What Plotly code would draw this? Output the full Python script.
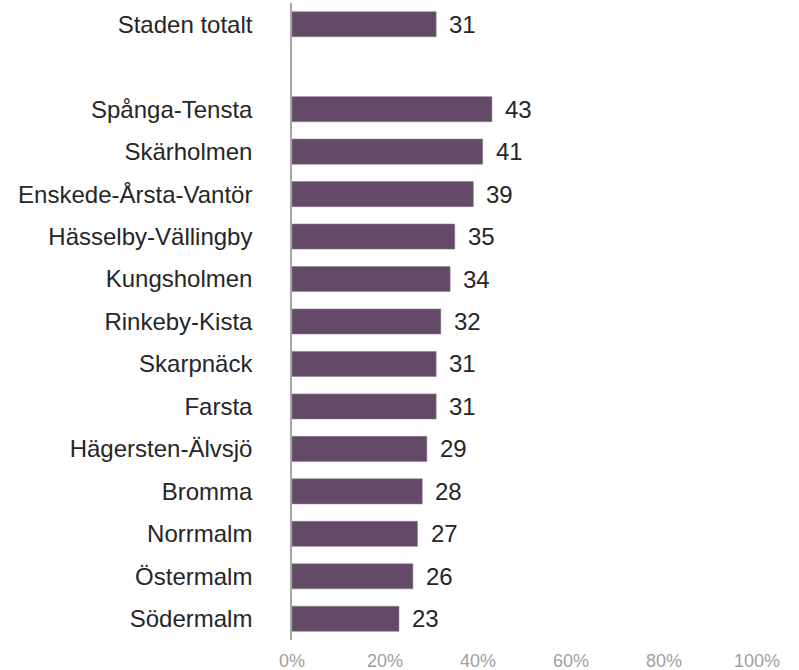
import plotly.graph_objects as go

categories = ["Staden totalt", " ", "Spånga-Tensta", "Skärholmen", "Enskede-Årsta-Vantör",
              "Hässelby-Vällingby", "Kungsholmen", "Rinkeby-Kista", "Skarpnäck", "Farsta",
              "Hägersten-Älvsjö", "Bromma", "Norrmalm", "Östermalm", "Södermalm"]
values = [31, None, 43, 41, 39, 35, 34, 32, 31, 31, 29, 28, 27, 26, 23]
tick_vals = [0, 20, 40, 60, 80, 100]
tick_text = ["0%", "20%", "40%", "60%", "80%", "100%"]

FONT = "Liberation Sans, Arial, sans-serif"

fig = go.Figure()
fig.add_trace(go.Bar(
    y=categories, x=values, orientation="h",
    marker=dict(color="#634a66", line=dict(color="#8c7a8e", width=0.6)),
    hoverinfo="skip",
))

for c, v in zip(categories, values):
    if v is None:
        continue
    fig.add_annotation(x=v, y=c, text=str(v), showarrow=False, xanchor="left",
                       xshift=11, font=dict(size=24, color="#262626", family=FONT))

fig.update_layout(
    width=799, height=670,
    margin=dict(l=292, r=42, t=3, b=30, autoexpand=False),
    plot_bgcolor="white", paper_bgcolor="white",
    bargap=0.41,
    showlegend=False,
    font=dict(family=FONT, size=24, color="#262626"),
    xaxis=dict(range=[0, 100], tickvals=tick_vals, ticktext=tick_text, showgrid=False,
               zeroline=False, showline=False, ticks="outside", ticklen=4, tickcolor="rgba(0,0,0,0)",
               tickfont=dict(size=18, color="#a0a0a0")),
    yaxis=dict(categoryorder="array", categoryarray=categories, autorange="reversed",
               showline=True, linecolor="#a6a6a6", linewidth=1.5, showgrid=False,
               ticks="", ticklabelstandoff=33, tickfont=dict(size=24, color="#262626")),
)

fig.write_html("out.html", config={"displayModeBar": False},
               post_script="document.body.style.margin='0';")
